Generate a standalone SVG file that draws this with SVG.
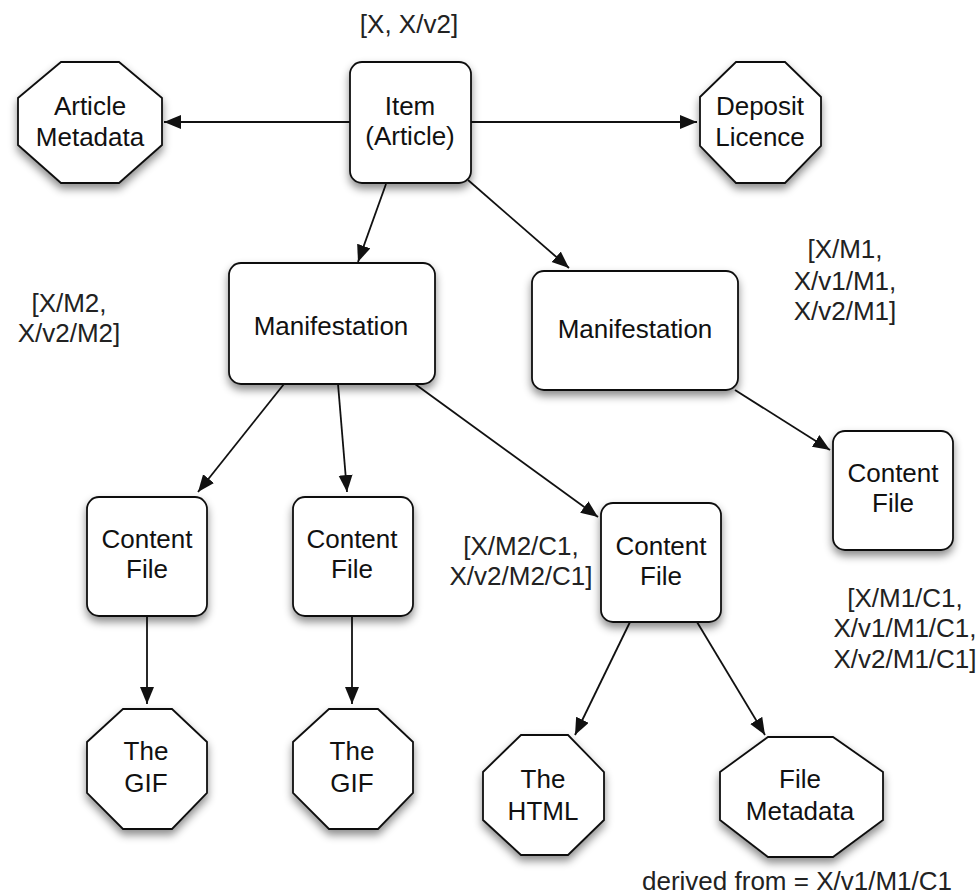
<svg xmlns="http://www.w3.org/2000/svg" width="980" height="895" viewBox="0 0 980 895">
<style>
.n{fill:#fff;stroke:#111;stroke-width:1.8;filter:url(#sh)}
text{font-family:"Liberation Sans",Arial,sans-serif;font-size:26px;fill:#111;text-anchor:middle}
.lbl{fill:#222}
.c{stroke:#111;stroke-width:1.8;fill:none;marker-end:url(#ah)}
</style>
<defs>
<filter id="sh" x="-20%" y="-20%" width="140%" height="150%">
<feDropShadow dx="0" dy="5" stdDeviation="4" flood-color="#000" flood-opacity="0.45"/>
</filter>
<marker id="ah" markerUnits="userSpaceOnUse" markerWidth="18" markerHeight="15" refX="17" refY="7" orient="auto">
<path d="M0,0 L17,7 L0,14 z" fill="#111"/>
</marker>
</defs>
<rect width="980" height="895" fill="#fff"/>
<g id="connectors">
<line class="c" x1="350" y1="122" x2="164" y2="122"/>
<line class="c" x1="471" y1="122" x2="697" y2="122"/>
<line class="c" x1="386" y1="184" x2="358" y2="262"/>
<line class="c" x1="468" y1="180" x2="569" y2="268"/>
<line class="c" x1="284" y1="384" x2="198" y2="492"/>
<line class="c" x1="338" y1="384" x2="347" y2="492"/>
<line class="c" x1="415" y1="384" x2="598" y2="517"/>
<line class="c" x1="735" y1="390" x2="830" y2="450"/>
<line class="c" x1="147" y1="616" x2="147" y2="704"/>
<line class="c" x1="352" y1="616" x2="352" y2="704"/>
<line class="c" x1="630" y1="622" x2="575" y2="735"/>
<line class="c" x1="697" y1="622" x2="765" y2="735"/>
</g>
<g id="item">
<rect class="n" x="350" y="62" width="121" height="121" rx="12"/>
<text x="410" y="115">Item</text>
<text x="410" y="145">(Article)</text>
</g>
<g id="article-metadata">
<polygon class="n" points="61,62 119,62 162,98 162,145 119,183 61,183 18,145 18,98"/>
<text x="90" y="115">Article</text>
<text x="90" y="146">Metadata</text>
</g>
<g id="deposit-licence">
<polygon class="n" points="736,62 785,62 821,97 821,146 785,183 736,183 700,146 700,97"/>
<text x="760" y="115">Deposit</text>
<text x="760" y="146">Licence</text>
</g>
<g id="manifestation-m2">
<rect class="n" x="229" y="263" width="206" height="121" rx="12"/>
<text x="331" y="335">Manifestation</text>
</g>
<g id="manifestation-m1">
<rect class="n" x="532" y="271" width="206" height="119" rx="12"/>
<text x="635" y="338">Manifestation</text>
</g>
<g id="content-file-1">
<rect class="n" x="87" y="497" width="120" height="119" rx="12"/>
<text x="147" y="548">Content</text>
<text x="147" y="578">File</text>
</g>
<g id="content-file-2">
<rect class="n" x="293" y="497" width="120" height="119" rx="12"/>
<text x="352" y="548">Content</text>
<text x="352" y="578">File</text>
</g>
<g id="content-file-3">
<rect class="n" x="601" y="503" width="120" height="119" rx="12"/>
<text x="661" y="555">Content</text>
<text x="661" y="585">File</text>
</g>
<g id="content-file-m1">
<rect class="n" x="833" y="431" width="120" height="119" rx="12"/>
<text x="893" y="482">Content</text>
<text x="893" y="512">File</text>
</g>
<g id="gif-1">
<polygon class="n" points="123,709 172,709 207,742 207,793 172,829 123,829 87,793 87,742"/>
<text x="146" y="760">The</text>
<text x="146" y="792">GIF</text>
</g>
<g id="gif-2">
<polygon class="n" points="329,709 378,709 413,742 413,793 378,829 329,829 293,793 293,742"/>
<text x="352" y="760">The</text>
<text x="352" y="792">GIF</text>
</g>
<g id="html">
<polygon class="n" points="521,735 568,735 604,772 604,820 568,855 521,855 483,820 483,772"/>
<text x="543" y="788">The</text>
<text x="543" y="820">HTML</text>
</g>
<g id="file-metadata">
<polygon class="n" points="768,737 833,737 883,772 883,820 833,857 768,857 720,820 720,772"/>
<text x="800" y="788">File</text>
<text x="800" y="820">Metadata</text>
</g>
<g id="labels">
<text class="lbl" x="409" y="33">[X, X/v2]</text>
<text class="lbl" x="69" y="312">[X/M2,</text>
<text class="lbl" x="69" y="342">X/v2/M2]</text>
<text class="lbl" x="845" y="258">[X/M1,</text>
<text class="lbl" x="845" y="290">X/v1/M1,</text>
<text class="lbl" x="845" y="320">X/v2/M1]</text>
<text class="lbl" x="521" y="555">[X/M2/C1,</text>
<text class="lbl" x="521" y="585">X/v2/M2/C1]</text>
<text class="lbl" x="905" y="607">[X/M1/C1,</text>
<text class="lbl" x="905" y="637">X/v1/M1/C1,</text>
<text class="lbl" x="905" y="668">X/v2/M1/C1]</text>
<text class="lbl" x="797" y="890">derived from = X/v1/M1/C1</text>
</g>
</svg>
